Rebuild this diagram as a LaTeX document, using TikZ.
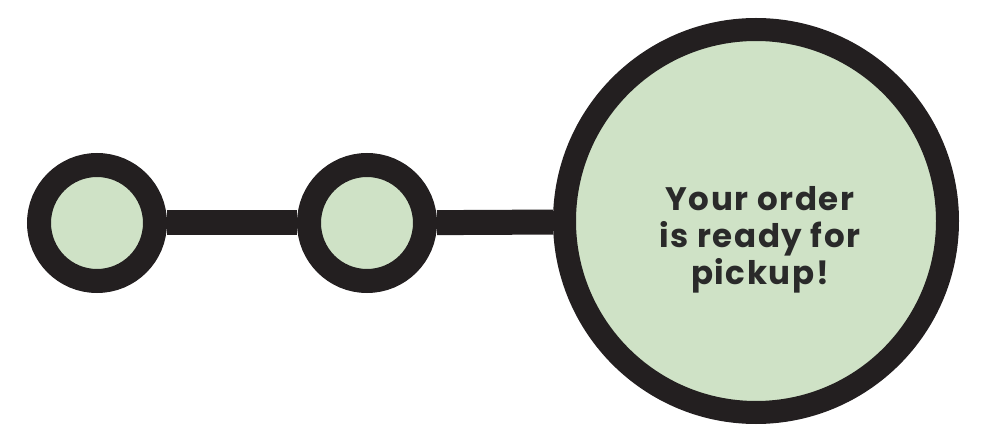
\documentclass[tikz,border=0pt]{standalone}
\usepackage{fontspec}
\setmainfont{Poppins}
\newfontfamily\stepfont[LetterSpace=5]{Poppins Bold}
\usetikzlibrary{positioning,backgrounds}
\definecolor{ringblack}{HTML}{231F20}
\definecolor{stepgreen}{HTML}{CFE2C6}
\definecolor{textgray}{HTML}{2A2A2A}
\tikzset{
  stepdot/.style={circle, draw=ringblack, fill=stepgreen, line width=24*0.02cm,
    inner sep=0pt, minimum size=116*0.02cm},
  bigdot/.style={circle, draw=ringblack, fill=stepgreen, line width=23*0.02cm,
    inner sep=0pt, minimum size=383*0.02cm},
  link/.style={draw=ringblack, line width=25*0.02cm},
}
\begin{document}
\begin{tikzpicture}[x=0.02cm, y=-0.02cm]
\useasboundingbox (0,0) rectangle (998,442);
% progress steps
\node[stepdot] (first) at (97,223) {};
\node[stepdot] (second) at (367,223) {};
\node[bigdot] (done) at (756,221) {};
\node[text=textgray, font=\stepfont\fontsize{18.5}{21}\selectfont, align=center]
  (msg) at (760,240) {Your order\\is ready for\\pickup!};
% links behind the steps
\begin{scope}[on background layer]
  \draw[link] (first) -- (second);
  \draw[link] (second) -- (done);
\end{scope}
\end{tikzpicture}
\end{document}
